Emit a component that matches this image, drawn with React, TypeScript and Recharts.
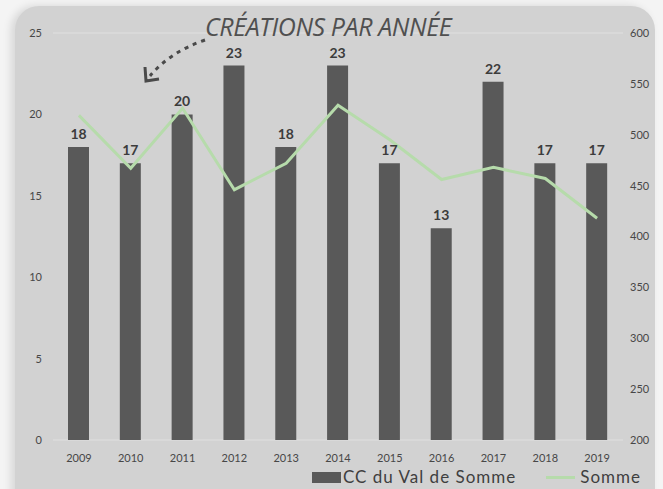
import {
  ComposedChart,
  Bar,
  Line,
  XAxis,
  YAxis,
  CartesianGrid,
  Legend,
  LabelList,
} from "recharts";

const years = ["2009", "2010", "2011", "2012", "2013", "2014", "2015", "2016", "2017", "2018", "2019"];
const valDeSomme = [18, 17, 20, 23, 18, 23, 17, 13, 22, 17, 17];
const somme = [519, 467, 526, 446, 472, 529, 495, 456, 468, 457, 418];
const leftTicks = [0, 5, 10, 15, 20, 25];
const rightTicks = [200, 250, 300, 350, 400, 450, 500, 550, 600];

const data = years.map((year, i) => ({
  year,
  cc: valDeSomme[i],
  somme: somme[i],
}));

const font = "Lato, 'Open Sans', sans-serif";
const barColor = "#595959";
const lineColor = "#b6dbab";
const textColor = "#474747";

function LegendContent() {
  return (
    <div
      style={{
        display: "flex",
        alignItems: "center",
        justifyContent: "flex-end",
        fontFamily: font,
        fontSize: 17,
        lineHeight: "20px",
        color: "#3f3f3f",
        letterSpacing: 1,
        paddingRight: 22,
        marginTop: 1,
      }}
    >
      <span style={{ width: 29, height: 11, background: barColor, marginRight: 2 }} />
      <span>CC du Val de Somme</span>
      <span style={{ width: 29, height: 3, background: lineColor, marginLeft: 30, marginRight: 5 }} />
      <span>Somme</span>
    </div>
  );
}

export default function App() {
  return (
    <div
      style={{
        position: "absolute",
        left: 0,
        top: 0,
        width: 663,
        height: 489,
        background: "#f4f4f4",
        overflow: "hidden",
      }}
    >
      <div
        style={{
          position: "absolute",
          left: 15,
          top: 6,
          width: 640,
          height: 540,
          background: "#d2d2d2",
          borderRadius: 24,
          boxShadow: "-4px 0 8px rgba(0,0,0,0.12)",
        }}
      />
      <div
        style={{
          position: "absolute",
          left: 205,
          top: 14,
          fontFamily: "'Open Sans', sans-serif",
          fontStyle: "italic",
          fontSize: 25,
          color: "#505050",
          letterSpacing: -0.4,
          lineHeight: "25px",
          whiteSpace: "nowrap",
          zIndex: 2,
        }}
      >
        CRÉATIONS PAR ANNÉE
      </div>
      <svg
        width={663}
        height={489}
        style={{ position: "absolute", left: 0, top: 0, pointerEvents: "none", zIndex: 2 }}
      >
        <path
          d="M 205 40 Q 170 52 150 76"
          fill="none"
          stroke="#4a4a4a"
          strokeWidth={3}
          strokeDasharray="4 5"
        />
        <path d="M 145 67 L 146 81 L 159 79" fill="none" stroke="#4a4a4a" strokeWidth={3} />
      </svg>
      <div style={{ position: "absolute", left: 0, top: 0 }}>
        <ComposedChart
          width={663}
          height={489}
          data={data}
          margin={{ top: 33, right: 0, bottom: 0, left: 0 }}
        >
          <CartesianGrid vertical={false} stroke="#e0e0e0" strokeWidth={1} />
          <XAxis
            dataKey="year"
            axisLine={false}
            tickLine={false}
            tickSize={0}
            tickMargin={14}
            height={26}
            tick={{ fill: textColor, fontSize: 11, fontFamily: font }}
          />
          <YAxis
            yAxisId="left"
            domain={[0, 25]}
            ticks={leftTicks}
            axisLine={false}
            tickLine={false}
            tickSize={0}
            tickMargin={11}
            width={53}
            tick={{ fill: textColor, fontSize: 11, fontFamily: font }}
          />
          <YAxis
            yAxisId="right"
            orientation="right"
            domain={[200, 600]}
            ticks={rightTicks}
            axisLine={false}
            tickLine={false}
            tickSize={0}
            tickMargin={7}
            width={40}
            tick={{ fill: textColor, fontSize: 11, fontFamily: font }}
          />
          <Legend verticalAlign="bottom" height={23} content={<LegendContent />} />
          <Bar
            yAxisId="left"
            dataKey="cc"
            name="CC du Val de Somme"
            fill={barColor}
            barSize={21}
            isAnimationActive={false}
          >
            <LabelList
              dataKey="cc"
              position="top"
              offset={8}
              fill="#3c3c3c"
              fontSize={14}
              fontWeight={700}
              fontFamily={font}
            />
          </Bar>
          <Line
            yAxisId="right"
            dataKey="somme"
            name="Somme"
            type="linear"
            stroke={lineColor}
            strokeWidth={3}
            dot={false}
            isAnimationActive={false}
          />
        </ComposedChart>
      </div>
    </div>
  );
}
